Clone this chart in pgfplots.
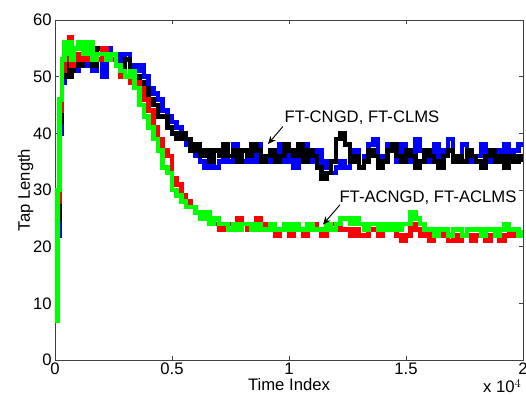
\documentclass[border=0pt]{standalone}
\usepackage{pgfplots}
\pgfplotsset{compat=1.18}
\usetikzlibrary{arrows.meta}
\usepackage{fontspec}
\setmainfont{Liberation Sans}
\pgfplotstableread{
x y
0 7
0.01 28
0.02 44
0.03 51
0.04 53
0.05 55
0.06 57
0.07 52
0.08 54
0.10 53
0.12 56
0.14 53
0.16 54
0.18 53
0.20 55
0.22 54
0.24 53
0.26 52
0.28 50
0.30 50
0.32 49
0.34 49
0.36 48
0.38 46
0.40 44
0.42 41
0.44 39
0.46 37
0.48 36
0.50 32
0.52 31
0.54 29
0.56 28
0.58 27
0.60 26
0.62 25
0.64 25
0.66 24
0.68 24
0.70 23
0.72 24
0.74 24
0.76 23
0.78 25
0.80 24
0.82 23
0.84 24
0.86 25
0.88 23
0.90 24
0.92 23
0.94 22
0.96 23
0.98 23
1.00 22
1.02 23
1.04 23
1.06 22
1.08 23
1.10 24
1.12 23
1.14 22
1.16 23
1.18 24
1.20 24
1.22 23
1.24 23
1.26 22
1.28 23
1.30 22
1.32 22
1.34 23
1.36 23
1.38 22
1.40 23
1.42 24
1.44 23
1.46 22
1.48 21
1.50 22
1.52 24
1.54 23
1.56 22
1.58 23
1.60 21
1.62 22
1.64 23
1.66 22
1.68 21
1.70 22
1.72 21
1.74 22
1.76 22
1.78 21
1.80 22
1.82 22
1.84 21
1.86 22
1.88 22
1.90 21
1.92 22
1.94 23
1.96 22
1.98 22
2.00 22
}\redtab
\pgfplotstableread{
x y
0 7
0.01 30
0.02 46
0.03 53
0.04 56
0.05 54
0.06 56
0.07 53
0.08 55
0.10 56
0.12 54
0.14 56
0.16 53
0.18 54
0.20 54
0.22 53
0.24 54
0.26 52
0.28 51
0.30 50
0.32 51
0.34 48
0.36 45
0.38 43
0.40 41
0.42 39
0.44 37
0.46 34
0.48 33
0.50 30
0.52 29
0.54 28
0.56 27
0.58 27
0.60 26
0.62 25
0.64 26
0.66 24
0.68 25
0.70 24
0.72 24
0.74 23
0.76 24
0.78 23
0.80 24
0.82 24
0.84 23
0.86 24
0.88 23
0.90 23
0.92 24
0.94 23
0.96 23
0.98 24
1.00 23
1.02 24
1.04 23
1.06 23
1.08 24
1.10 23
1.12 23
1.14 23
1.16 24
1.18 23
1.20 24
1.22 25
1.24 25
1.26 24
1.28 25
1.30 24
1.32 23
1.34 24
1.36 24
1.38 23
1.40 24
1.42 23
1.44 24
1.46 23
1.48 24
1.50 24
1.52 26
1.54 25
1.56 24
1.58 23
1.60 23
1.62 22
1.64 23
1.66 23
1.68 22
1.70 23
1.72 23
1.74 22
1.76 23
1.78 23
1.80 23
1.82 22
1.84 23
1.86 23
1.88 22
1.90 23
1.92 24
1.94 23
1.96 23
1.98 22
2.00 23
}\greentab
\pgfplotstableread{
x y
0 7
0.01 22
0.02 40
0.03 49
0.04 51
0.05 53
0.06 50
0.07 52
0.08 51
0.10 54
0.12 52
0.14 53
0.16 51
0.18 54
0.20 50
0.22 55
0.24 53
0.26 54
0.28 52
0.30 54
0.32 52
0.34 51
0.36 52
0.38 50
0.40 48
0.42 47
0.44 46
0.46 44
0.48 43
0.50 42
0.52 41
0.54 40
0.56 38
0.58 37
0.60 36
0.62 35
0.64 34
0.66 36
0.68 34
0.70 35
0.72 37
0.74 35
0.76 38
0.78 36
0.80 35
0.82 37
0.84 35
0.86 38
0.88 36
0.90 35
0.92 37
0.94 36
0.96 38
0.98 35
1.00 37
1.02 34
1.04 36
1.06 38
1.08 35
1.10 36
1.12 37
1.14 34
1.16 35
1.18 33
1.20 34
1.22 35
1.24 34
1.26 36
1.28 37
1.30 34
1.32 36
1.34 38
1.36 39
1.38 36
1.40 35
1.42 38
1.44 37
1.46 35
1.48 38
1.50 36
1.52 35
1.54 39
1.56 37
1.58 35
1.60 36
1.62 38
1.64 35
1.66 37
1.68 39
1.70 36
1.72 35
1.74 38
1.76 37
1.78 35
1.80 36
1.82 38
1.84 36
1.86 35
1.88 37
1.90 36
1.92 38
1.94 35
1.96 37
1.98 38
2.00 38
}\bluetab
\pgfplotstableread{
x y
0 7
0.01 25
0.02 42
0.03 50
0.04 51
0.05 53
0.06 50
0.07 51
0.08 53
0.10 52
0.12 53
0.14 54
0.16 52
0.18 55
0.20 55
0.22 54
0.24 53
0.26 52
0.28 51
0.30 53
0.32 51
0.34 50
0.36 49
0.38 48
0.40 46
0.42 45
0.44 43
0.46 43
0.48 41
0.50 40
0.52 39
0.54 40
0.56 39
0.58 37
0.60 38
0.62 36
0.64 37
0.66 35
0.68 37
0.70 36
0.72 38
0.74 36
0.76 37
0.78 35
0.80 37
0.82 36
0.84 38
0.86 37
0.88 35
0.90 36
0.92 37
0.94 35
0.96 36
0.98 38
1.00 37
1.02 36
1.04 38
1.06 35
1.08 37
1.10 36
1.12 34
1.14 32
1.16 33
1.18 35
1.20 39
1.22 40
1.24 38
1.26 35
1.28 36
1.30 34
1.32 35
1.34 37
1.36 36
1.38 34
1.40 35
1.42 37
1.44 38
1.46 36
1.48 35
1.50 37
1.52 36
1.54 34
1.56 35
1.58 37
1.60 36
1.62 35
1.64 34
1.66 36
1.68 37
1.70 35
1.72 36
1.74 35
1.76 37
1.78 36
1.80 35
1.82 34
1.84 36
1.86 37
1.88 35
1.90 36
1.92 34
1.94 36
1.96 35
1.98 36
2.00 35
}\blacktab
\definecolor{mblue}{RGB}{0,0,255}
\definecolor{mred}{RGB}{255,0,0}
\definecolor{mgreen}{RGB}{0,255,0}
\begin{document}
\begin{tikzpicture}
\useasboundingbox (-41.25pt,-26.25pt) rectangle (353.25pt,270pt);
\clip (-41.25pt,-26.25pt) rectangle (353.25pt,270pt);
\begin{axis}[
  at={(0pt,0pt)}, anchor=south west,
  width=351pt, height=255pt, scale only axis,
  xmin=0, xmax=2, ymin=0, ymax=60,
  xtick={0,0.5,1,1.5,2}, xticklabels={0,0.5,1,1.5,2},
  ytick={0,10,20,30,40,50,60},
  tick align=inside, tick pos=both,
  major tick length=3pt,
  axis line style={draw=black!75, line width=0.7pt},
  tick style={draw=black!75, line width=0.5pt},
  every tick label/.append style={font=\fontsize{12.5}{14}\selectfont},
  xticklabel style={yshift=1.5pt},
  yticklabel style={xshift=1pt},
  /pgf/number format/assume math mode=true,
  xlabel={Time Index}, ylabel={Tap Length},
  label style={font=\fontsize{12.5}{14}\selectfont},
  xlabel style={yshift=4pt},
  ylabel style={yshift=-7pt},
]
\addplot[mblue, const plot, line width=3.4pt] table[x=x,y=y] {\bluetab};
\addplot[black, const plot, line width=3.4pt] table[x=x,y=y] {\blacktab};
\addplot[mred, const plot, line width=3.4pt] table[x=x,y=y] {\redtab};
\addplot[mgreen, const plot, line width=3.4pt] table[x=x,y=y] {\greentab};
\node[font=\fontsize{12.5}{14}\selectfont, inner sep=1pt] at (axis cs:1.312,42.8) {FT-CNGD, FT-CLMS};
\node[font=\fontsize{12.5}{14}\selectfont, inner sep=1pt] at (axis cs:1.594,28.7) {FT-ACNGD, FT-ACLMS};
\draw[-{Stealth[length=6pt,width=5pt]}, line width=0.7pt] (axis cs:0.974,41.2) -- (axis cs:0.910,38.1);
\draw[-{Stealth[length=6pt,width=5pt]}, line width=0.7pt] (axis cs:1.218,27.4) -- (axis cs:1.145,23.9);
\end{axis}
\node[anchor=south east, inner sep=0pt, font=\fontsize{12.5}{14}\selectfont] at (350pt,-25pt) {x 10$^{4}$};
\end{tikzpicture}
\end{document}
